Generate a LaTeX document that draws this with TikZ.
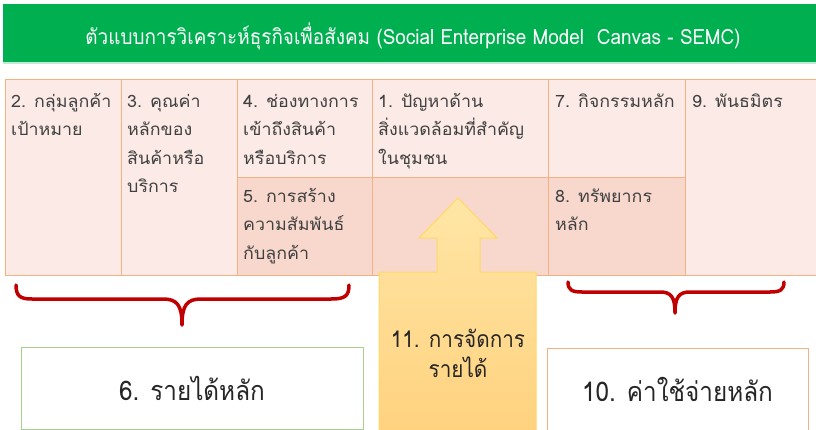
\documentclass[tikz,border=0pt]{standalone}
\usepackage{fontspec}
\newfontfamily\thaifont[Script=Thai,FakeStretch=1.05]{Loma}
\newfontfamily\thainarrow[Script=Thai,FakeStretch=0.9]{Loma}
\usetikzlibrary{positioning}
\definecolor{semcgreen}{HTML}{00B050}
\definecolor{celllight}{HTML}{FBEAE6}
\definecolor{celldark}{HTML}{F8D8CD}
\definecolor{cellline}{HTML}{F4B183}
\definecolor{bracered}{HTML}{C00000}
\definecolor{incomeline}{HTML}{A9D18E}
\definecolor{arrowtop}{HTML}{FFE6A6}
\definecolor{arrowbottom}{HTML}{FFD27F}
\definecolor{arrowline}{HTML}{FFD966}
\tikzset{
    %Define style for the title band
    banner/.style={
           rectangle,
           fill=semcgreen,
           inner sep=0pt, outer sep=0pt,
           minimum width=813pt,
           minimum height=59pt,
           anchor=north west},
    titletext/.style={
           font=\thainarrow\fontsize{21}{24}\selectfont,
           text=white},
    %Define style for canvas cells
    cell/.style={
           rectangle,
           draw=cellline, line width=1pt,
           fill=celllight,
           inner sep=0pt, outer sep=0pt,
           anchor=north west},
    celldk/.style={
           cell,
           fill=celldark},
    celltext/.style={
           font=\thaifont\fontsize{17}{28.5}\selectfont,
           text=black!75,
           align=left,
           inner sep=0pt},
    %Define style for the boxes below
    sumbox/.style={
           rectangle,
           fill=white, line width=1pt,
           inner sep=0pt, outer sep=0pt,
           minimum height=82pt,
           anchor=north west,
           font=\thainarrow\fontsize{27}{30}\selectfont,
           text=black!85},
    % Define brace style
    brace/.style={
           draw=bracered,
           line width=3.5pt,
           line cap=round,
           line join=round}
}
\begin{document}
\begin{tikzpicture}[x=1pt,y=-1pt]
\useasboundingbox (0,0) rectangle (816,429);
% title
\node[banner](band) at (3,4) {};
\draw[semcgreen!25, line width=2pt] (band.south west) -- (band.south east);
\node[titletext](title) at (413,36) {ตัวแบบการวิเคราะห์ธุรกิจเพื่อสังคม (Social Enterprise Model\ \ Canvas - SEMC)};
% canvas
\node[cell, minimum width=116pt, minimum height=196pt](c2) at (5,79) {};
\node[cell, minimum width=116pt, minimum height=196pt](c3) at (121,79) {};
\node[cell, minimum width=135pt, minimum height=98pt](c4) at (237,79) {};
\node[celldk, minimum width=135pt, minimum height=98pt](c5) at (237,177) {};
\node[cell, minimum width=176pt, minimum height=98pt](c1) at (372,79) {};
\node[celldk, minimum width=176pt, minimum height=98pt](c1b) at (372,177) {};
\node[cell, minimum width=137pt, minimum height=98pt](c7) at (548,79) {};
\node[celldk, minimum width=137pt, minimum height=98pt](c8) at (548,177) {};
\node[cell, minimum width=134pt, minimum height=196pt](c9) at (685,79) {};
\node[celltext, below right=8pt and 6pt of c2.north west](t2) {\strut 2. กลุ่มลูกค้า\\เป้าหมาย};
\node[celltext, below right=8pt and 6pt of c3.north west](t3) {\strut 3. คุณค่า\\หลักของ\\สินค้าหรือ\\บริการ};
\node[celltext, below right=8pt and 6pt of c4.north west](t4) {\strut 4. ช่องทางการ\\เข้าถึงสินค้า\\หรือบริการ};
\node[celltext, below right=5pt and 6pt of c5.north west](t5) {\strut 5. การสร้าง\\ความสัมพันธ์\\กับลูกค้า};
\node[celltext, below right=8pt and 6pt of c1.north west](t1) {\strut 1. ปัญหาด้าน\\สิ่งแวดล้อมที่สำคัญ\\ในชุมชน};
\node[celltext, below right=8pt and 7pt of c7.north west](t7) {\strut 7. กิจกรรมหลัก};
\node[celltext, below right=5pt and 7pt of c8.north west](t8) {\strut 8. ทรัพยากร\\หลัก};
\node[celltext, below right=8pt and 7pt of c9.north west](t9) {\strut 9. พันธมิตร};
% revenue arrow
\shade[top color=arrowtop, bottom color=arrowbottom, draw=arrowline, line width=1pt]
  (379,430) -- (379,272) -- (437,272) -- (437,238) -- (419,238) -- (458,198)
  -- (497,238) -- (480,238) -- (480,272) -- (536,272) -- (536,430);
\node[font=\thainarrow\fontsize{23}{30}\selectfont, text=black!85, align=center](r11) at (458,353) {11. การจัดการ\\รายได้};
% braces
\draw[brace] (16,285) .. controls (16,296) and (20,299) .. (32,299) -- (163,299)
  .. controls (177,299) and (182,305) .. (182,325)
  .. controls (182,305) and (187,299) .. (201,299) -- (331,299)
  .. controls (345,299) and (349,296) .. (349,285);
\draw[brace] (568,282) .. controls (568,290) and (572,292) .. (582,292) -- (660,292)
  .. controls (671,292) and (675,297) .. (675,313)
  .. controls (675,297) and (679,292) .. (690,292) -- (770,292)
  .. controls (780,292) and (784,290) .. (784,282);
% totals
\node[sumbox, draw=incomeline, minimum width=342pt](r6) at (21,347) {6. รายได้หลัก};
\node[sumbox, draw=cellline, minimum width=261pt](r10) at (547,348) {10. ค่าใช้จ่ายหลัก};
\end{tikzpicture}
\end{document}
